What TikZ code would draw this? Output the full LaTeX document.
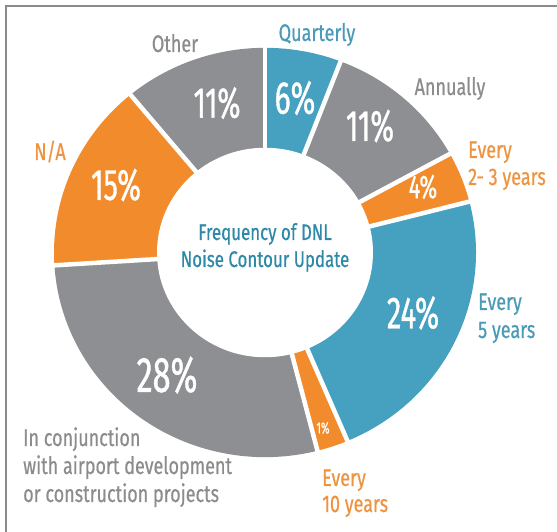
\documentclass[tikz,border=0pt]{standalone}
\usepackage{fontspec}
\setmainfont{Fira Sans}
\newfontfamily\lblfont[FakeStretch=0.75,FakeBold=0.5]{Fira Sans}
\newfontfamily\numfont[FakeStretch=0.65,FakeBold=0.8]{Fira Sans}
\definecolor{corange}{HTML}{F28B2C}
\definecolor{cblue}{HTML}{46A0C0}
\definecolor{cgray}{HTML}{8E8F92}
\definecolor{torange}{HTML}{EE9440}
\definecolor{tblue}{HTML}{4A9AB8}
\definecolor{tgray}{HTML}{8C8C8C}
\definecolor{tcenter}{HTML}{2E88A8}
\definecolor{framegray}{HTML}{8A8A8A}
\tikzset{
  lbl/.style={inner sep=0pt, font=\lblfont\fontsize{24}{28}\selectfont},
  pct/.style={inner sep=0pt, text=white},
  sep/.style={white, line width=4.5pt},
}
\newcommand{\pctsize}[1]{\numfont\fontsize{#1}{#1}\selectfont}
\begin{document}
\begin{tikzpicture}[x=1pt,y=1pt]
\useasboundingbox (0,0) rectangle (557,532);
\fill[white] (0,0) rectangle (557,532);
\begin{scope}[shift={(265,279.5)}, yscale=0.97]
  \coordinate (c) at (0,0);
  \fill[cblue]   (c) -- (69:211)    arc[start angle=69,    end angle=90,    radius=211] -- cycle;
  \fill[cgray]   (c) -- (28.8:211)  arc[start angle=28.8,  end angle=69,    radius=211] -- cycle;
  \fill[corange] (c) -- (14.4:211)  arc[start angle=14.4,  end angle=28.8,  radius=211] -- cycle;
  \fill[cblue]   (c) -- (-67:211)   arc[start angle=-67,   end angle=14.4,  radius=211] -- cycle;
  \fill[corange] (c) -- (-75.6:211) arc[start angle=-75.6, end angle=-67,   radius=211] -- cycle;
  \fill[cgray]   (c) -- (-176.4:211) arc[start angle=-176.4, end angle=-75.6, radius=211] -- cycle;
  \fill[corange] (c) -- (129.6:211) arc[start angle=129.6, end angle=183.6, radius=211] -- cycle;
  \fill[cgray]   (c) -- (90:211)    arc[start angle=90,    end angle=129.6, radius=211] -- cycle;
  \foreach \a in {90,69,28.8,14.4,-67,-75.6,-176.4,129.6}
    \draw[sep] (c) -- (\a:220);
  \fill[white] (c) circle (108);
\end{scope}
% frame
\draw[framegray, line width=2pt] (6,0) -- (6,526) -- (557,526);
% centre title
\node[lbl, text=tcenter, anchor=base, font=\lblfont\fontsize{22.5}{26}\selectfont] (t1) at (265,292) {Frequency of DNL};
\node[lbl, text=tcenter, anchor=base, font=\lblfont\fontsize{22.5}{26}\selectfont] (t2) at (265,265) {Noise Contour Update};
% percentages
\node[pct, font=\pctsize{43}] (p11a) at (217,429) {11\%};
\node[pct, font=\pctsize{46}] (p6)   at (295,434) {6\%};
\node[pct, font=\pctsize{44}] (p11b) at (370,406) {11\%};
\node[pct, font=\pctsize{33}] (p4)   at (423,345) {4\%};
\node[pct, font=\pctsize{45}] (p24)  at (413,219) {24\%};
\node[pct, font=\pctsize{16}] (p1)   at (323,104) {1\%};
\node[pct, font=\pctsize{50}] (p28)  at (167,157) {28\%};
\node[pct, font=\pctsize{44}] (p15)  at (116,347) {15\%};
% category labels
\node[lbl, text=tgray, anchor=base] (lOther) at (175,480) {Other};
\node[lbl, text=tblue, anchor=base] (lQ) at (317,491) {Quarterly};
\node[lbl, text=tgray, anchor=base] (lA) at (450,437) {Annually};
\node[lbl, text=torange, anchor=base west] (l23a) at (468,374) {Every};
\node[lbl, text=torange, anchor=base west] (l23b) at (468,347) {2- 3 years};
\node[lbl, text=tblue, anchor=base west] (l5a) at (478,222) {Every};
\node[lbl, text=tblue, anchor=base west] (l5b) at (478,194) {5 years};
\node[lbl, text=torange, anchor=base west] (l10a) at (322,46) {Every};
\node[lbl, text=torange, anchor=base west] (l10b) at (322,20) {10 years};
\node[lbl, text=tgray, anchor=base west] (lc1) at (23,86) {In conjunction};
\node[lbl, text=tgray, anchor=base west] (lc2) at (23,58) {with airport development};
\node[lbl, text=tgray, anchor=base west] (lc3) at (23,30) {or construction projects};
\node[lbl, text=torange, anchor=base] (lNA) at (50,372) {N/A};
\end{tikzpicture}
\end{document}
